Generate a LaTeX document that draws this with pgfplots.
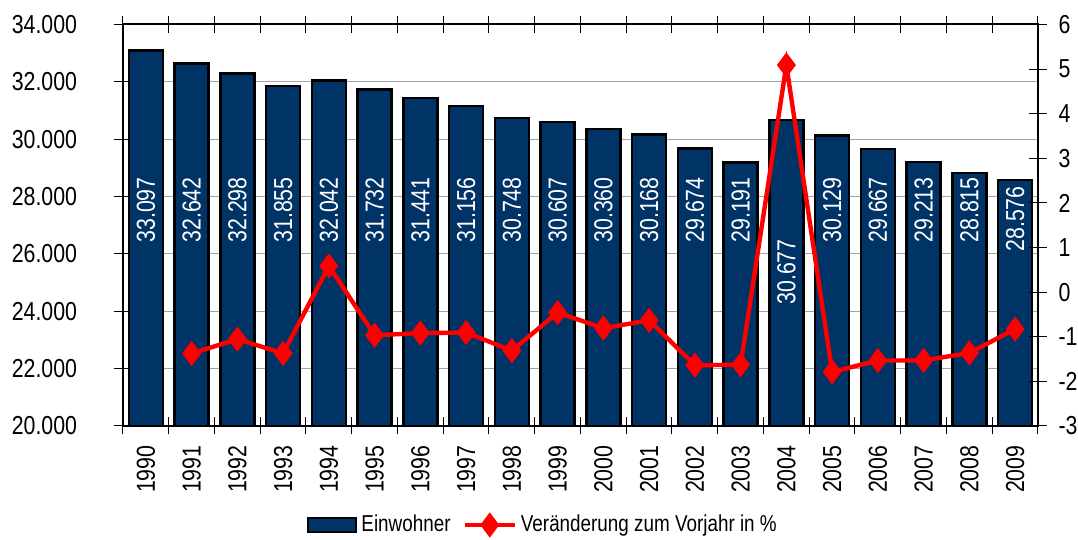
\documentclass[border=0pt]{standalone}
\usepackage{fontspec}
\setmainfont{Liberation Sans}[FakeStretch=0.82]
\usepackage{pgfplots}
\pgfplotsset{compat=1.18}
\definecolor{navy}{RGB}{0,51,102}
\definecolor{gridgray}{RGB}{165,165,165}
\pgfplotsset{mylineleg/.style={legend image code/.code={\draw[mark repeat=2,mark phase=2,##1] plot coordinates {(0pt,0pt) (12.5pt,0pt) (25pt,0pt)};}}}
\begin{document}
\begin{tikzpicture}
\path[use as bounding box] (-61.5pt,-57pt) rectangle (477.5pt,213pt);
\begin{axis}[
  at={(0pt,0pt)}, anchor=south west, scale only axis,
  width=457.5pt, height=200.75pt,
  xmin=-0.5, xmax=19.5, ymin=20000, ymax=34000,
  scaled y ticks=false,
  ytick={20000,22000,24000,26000,28000,30000,32000,34000},
  yticklabels={20.000,22.000,24.000,26.000,28.000,30.000,32.000,34.000},
  ytick pos=left,
  ymajorgrids, grid style={gridgray, line width=0.5pt},
  tick align=center, major tick length=8.5pt,
  tick style={black, line width=0.5pt},
  xtick={-0.5,0.5,1.5,2.5,3.5,4.5,5.5,6.5,7.5,8.5,9.5,10.5,11.5,12.5,13.5,14.5,15.5,16.5,17.5,18.5,19.5},
  xticklabels={},
  extra x ticks={0,1,2,3,4,5,6,7,8,9,10,11,12,13,14,15,16,17,18,19},
  extra x tick labels={1990,1991,1992,1993,1994,1995,1996,1997,1998,1999,2000,2001,2002,2003,2004,2005,2006,2007,2008,2009},
  extra x tick style={major tick length=0pt, grid=none,
    xticklabel style={yshift=-6.2pt, rotate=90, anchor=east}},
  axis line style={line width=1pt},
  font=\fontsize{13}{15.6}\selectfont,
  yticklabel style={xshift=-15.2pt},
]
\addplot[ybar, bar width=17pt, fill=navy, draw=black, line width=1.2pt] coordinates {
(0,33097) (1,32642) (2,32298) (3,31855) (4,32042) (5,31732) (6,31441) (7,31156) (8,30748) (9,30607)
(10,30360) (11,30168) (12,29674) (13,29191) (14,30677) (15,30129) (16,29667) (17,29213) (18,28815) (19,28576)};
\addplot[draw=none, mark=none, nodes near coords, point meta=explicit symbolic,
  nodes near coords style={rotate=90, anchor=center, white, font=\fontsize{13}{15.6}\selectfont}] coordinates {
(0,27532)[33.097] (1,27532)[32.642] (2,27532)[32.298] (3,27532)[31.855] (4,27532)[32.042]
(5,27532)[31.732] (6,27532)[31.441] (7,27532)[31.156] (8,27532)[30.748] (9,27532)[30.607]
(10,27532)[30.360] (11,27532)[30.168] (12,27532)[29.674] (13,27532)[29.191] (14,25370)[30.677]
(15,27532)[30.129] (16,27532)[29.667] (17,27532)[29.213] (18,27532)[28.815] (19,27218)[28.576]};
\end{axis}
\begin{axis}[
  at={(0pt,0pt)}, anchor=south west, scale only axis,
  width=457.5pt, height=200.75pt,
  xmin=-0.5, xmax=19.5, ymin=-3, ymax=6,
  axis y line*=right, axis x line=none,
  ytick={-3,-2,-1,0,1,2,3,4,5,6},
  yticklabels={-3,-2,-1,0,1,2,3,4,5,6},
  tick align=center, major tick length=8.5pt,
  tick style={black, line width=0.5pt},
  axis line style={line width=1pt},
  font=\fontsize{13}{15.6}\selectfont,
  yticklabel style={xshift=2.5pt},
  legend columns=2,
  legend style={draw=none, fill=none, at={(0.46,-0.2466)}, anchor=center,
    font=\fontsize{11.5}{13}\selectfont,
    /tikz/every even column/.append style={column sep=4pt}},
]
\addlegendimage{legend image code/.code={\draw[fill=navy, draw=black, line width=1.2pt] (0pt,-3.5pt) rectangle (24pt,3.5pt);}}
\addlegendentry{Einwohner}
\addplot[red, line width=2.2pt, mark=diamond*, mark size=4.5pt, mark options={solid}, mylineleg] coordinates {
(1,-1.375) (2,-1.054) (3,-1.372) (4,0.587) (5,-0.967) (6,-0.917) (7,-0.906) (8,-1.310) (9,-0.459)
(10,-0.807) (11,-0.632) (12,-1.638) (13,-1.628) (14,5.091) (15,-1.786) (16,-1.533) (17,-1.530) (18,-1.362) (19,-0.829)};
\addlegendentry{Veränderung zum Vorjahr in \%}
\end{axis}
\end{tikzpicture}
\end{document}
